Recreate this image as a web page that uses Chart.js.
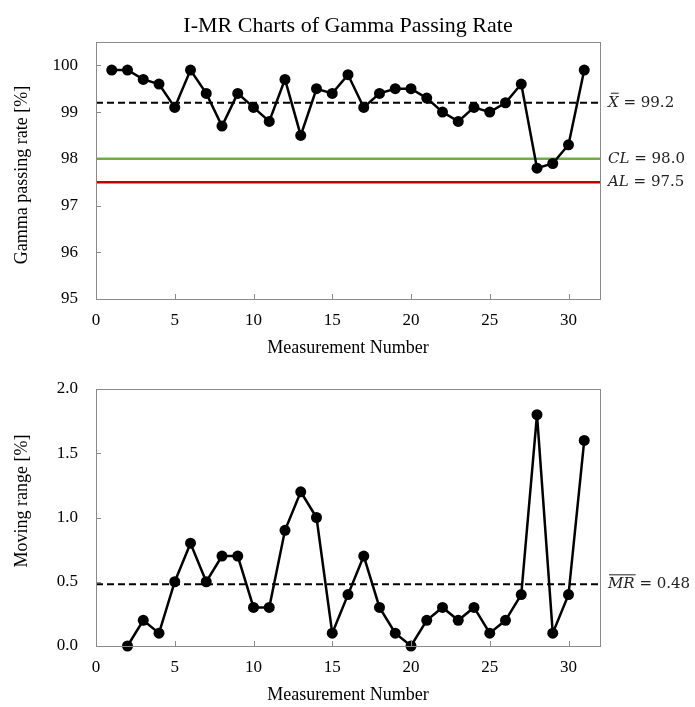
<!DOCTYPE html>
<html><head><meta charset="utf-8">
<script src="https://cdn.jsdelivr.net/npm/chart.js@4"></script>
<style>
html,body{margin:0;padding:0;background:#fff;}
#wrap{position:relative;width:695px;height:707px;overflow:hidden;}
.box{position:absolute;left:0;width:695px;}
canvas{display:block;}
</style></head><body>
<div id="wrap">
<div class="box" style="top:0;height:360px"><canvas id="c1" width="695" height="360"></canvas></div>
<div class="box" style="top:360px;height:347px"><canvas id="c2" width="695" height="347"></canvas></div>
</div>
<script>
// ---- Data ----
const measurementNumbers = [1,2,3,4,5,6,7,8,9,10,11,12,13,14,15,16,17,18,19,20,21,22,23,24,25,26,27,28,29,30,31];
const passingRate = [99.9,99.9,99.7,99.6,99.1,99.9,99.4,98.7,99.4,99.1,98.8,99.7,98.5,99.5,99.4,99.8,99.1,99.4,99.5,99.5,99.3,99.0,98.8,99.1,99.0,99.2,99.6,97.8,97.9,98.3,99.9];
const mrNumbers = [2,3,4,5,6,7,8,9,10,11,12,13,14,15,16,17,18,19,20,21,22,23,24,25,26,27,28,29,30,31];
const movingRange = [0.0,0.2,0.1,0.5,0.8,0.5,0.7,0.7,0.3,0.3,0.9,1.2,1.0,0.1,0.4,0.7,0.3,0.1,0.0,0.2,0.3,0.2,0.3,0.1,0.2,0.4,1.8,0.1,0.4,1.6];
const xTicks = [0,5,10,15,20,25,30];
const xRange = [0,32];
const yTicksTop = [95,96,97,98,99,100];
const yRangeTop = [95,100.5];
const yTicksBottom = [0.0,0.5,1.0,1.5,2.0];
const yRangeBottom = [0,2];
const meanValue = 99.2;
const clValue = 98.0;
const alValue = 97.5;
const mrMean = 0.48;

const SERIF = "'Liberation Serif','Times New Roman',serif";
const MATH = "'DejaVu Serif',serif";
const GREY = '#8a8a8a';

function pts(xs, ys){ return xs.map((x,i)=>({x:x, y:ys[i]})); }
function hline(v){ return [{x:xRange[0], y:v},{x:xRange[1], y:v}]; }

function mathLabel(ctx, x, y, v, value, bar){
  ctx.save();
  ctx.fillStyle = '#222';
  ctx.textBaseline = 'middle';
  ctx.textAlign = 'left';
  ctx.font = "italic 15px " + MATH;
  ctx.fillText(v, x, y);
  const w = ctx.measureText(v).width;
  ctx.strokeStyle = '#222'; ctx.lineWidth = 1;
  if (bar === 'short') {
    ctx.beginPath(); ctx.moveTo(x+3, y-9.5); ctx.lineTo(x+w, y-9.5); ctx.stroke();
  } else if (bar === 'long') {
    ctx.beginPath(); ctx.moveTo(x+1, y-9.5); ctx.lineTo(x+w+1, y-9.5); ctx.stroke();
  }
  ctx.font = "15px " + MATH;
  ctx.fillText(' = ' + value, x + w, y);
  ctx.restore();
}

function framePlugin(cfg){
  return {
    id: 'frame',
    afterDraw(chart){
      const ctx = chart.ctx, a = chart.chartArea;
      const xs = chart.scales.x, ys = chart.scales.y;
      ctx.save();
      ctx.strokeStyle = GREY; ctx.lineWidth = 1;
      ctx.strokeRect(Math.round(a.left)+0.5, Math.round(a.top)+0.5, Math.round(a.right-a.left), Math.round(a.bottom-a.top));
      // inner tick marks
      xTicks.forEach(v=>{
        if (v === xRange[0]) return;
        const px = Math.round(xs.getPixelForValue(v)) + 0.5;
        ctx.beginPath(); ctx.moveTo(px, a.bottom); ctx.lineTo(px, a.bottom-5); ctx.stroke();
      });
      cfg.yTicks.forEach(v=>{
        if (v === cfg.yRange[0] || v === cfg.yRange[1]) return;
        const py = Math.round(ys.getPixelForValue(v)) + 0.5;
        ctx.beginPath(); ctx.moveTo(a.left, py); ctx.lineTo(a.left+5, py); ctx.stroke();
      });
      // axis titles
      ctx.fillStyle = '#000';
      ctx.font = "18px " + SERIF;
      ctx.textAlign = 'center'; ctx.textBaseline = 'alphabetic';
      ctx.fillText('Measurement Number', (a.left+a.right)/2, a.bottom + 54);
      ctx.save();
      ctx.translate(22, cfg.yTitleCenter);
      ctx.rotate(-Math.PI/2);
      ctx.textBaseline = 'middle';
      ctx.fillText(cfg.yTitle, 0, 0);
      ctx.restore();
      if (cfg.title) {
        ctx.font = "22px " + SERIF;
        ctx.textBaseline = 'middle';
        ctx.fillText(cfg.title, (a.left+a.right)/2, 26);
      }
      cfg.labels.forEach(l=>{
        mathLabel(ctx, a.right + 8, ys.getPixelForValue(l.y), l.v, l.text, l.bar);
      });
      ctx.restore();
    }
  };
}

function makeChart(id, cfg){
  return new Chart(document.getElementById(id), {
    type: 'line',
    data: { datasets: cfg.datasets },
    options: {
      responsive: false,
      animation: false,
      devicePixelRatio: 1,
      layout: { padding: { left: 0, right: 95, top: cfg.top, bottom: 0 } },
      plugins: { legend: { display: false }, tooltip: { enabled: false } },
      scales: {
        x: {
          type: 'linear', min: xRange[0], max: xRange[1],
          afterBuildTicks: s => { s.ticks = xTicks.map(v=>({value:v})); },
          afterFit: s => { s.height = 61; },
          grid: { display: false, drawTicks: false },
          border: { display: false },
          ticks: { font: { family: SERIF, size: 17 }, color: '#000', padding: 11, maxRotation: 0, autoSkip: false }
        },
        y: {
          type: 'linear', min: cfg.yRange[0], max: cfg.yRange[1],
          afterBuildTicks: s => { s.ticks = cfg.yTicks.map(v=>({value:v})); },
          afterFit: s => { s.width = 96; },
          grid: { display: false, drawTicks: false },
          border: { display: false },
          ticks: { font: { family: SERIF, size: 17 }, color: '#000', padding: 18, autoSkip: false, callback: cfg.fmt }
        }
      }
    },
    plugins: [framePlugin(cfg)]
  });
}

const dataStyle = { borderColor: '#000', backgroundColor: '#000', borderWidth: 2.5, pointRadius: 5.5, pointBackgroundColor: '#000', pointBorderColor: '#000', pointBorderWidth: 0, tension: 0, clip: false };
const lineStyle = { pointRadius: 0, tension: 0, fill: false };

makeChart('c1', {
  top: 42,
  yRange: yRangeTop, yTicks: yTicksTop,
  fmt: v => String(v),
  yTitle: 'Gamma passing rate [%]', yTitleCenter: 175,
  title: 'I-MR Charts of Gamma Passing Rate',
  labels: [
    { y: meanValue, v: 'X', text: meanValue.toFixed(1), bar: 'short' },
    { y: clValue, v: 'CL', text: clValue.toFixed(1) },
    { y: alValue, v: 'AL', text: alValue.toFixed(1) }
  ],
  datasets: [
    Object.assign({ data: pts(measurementNumbers, passingRate) }, dataStyle),
    Object.assign({ data: hline(meanValue), borderColor: '#000', borderWidth: 2, borderDash: [7,4] }, lineStyle),
    Object.assign({ data: hline(clValue), borderColor: '#70ad47', borderWidth: 2.5 }, lineStyle),
    Object.assign({ data: hline(alValue), borderColor: '#c00000', borderWidth: 2.5 }, lineStyle)
  ]
});

makeChart('c2', {
  top: 29,
  yRange: yRangeBottom, yTicks: yTicksBottom,
  fmt: v => Number(v).toFixed(1),
  yTitle: 'Moving range [%]', yTitleCenter: 141,
  labels: [
    { y: mrMean, v: 'MR', text: mrMean.toFixed(2), bar: 'long' }
  ],
  datasets: [
    Object.assign({ data: pts(mrNumbers, movingRange) }, dataStyle),
    Object.assign({ data: hline(mrMean), borderColor: '#000', borderWidth: 2, borderDash: [7,4] }, lineStyle)
  ]
});
</script>
</body></html>
